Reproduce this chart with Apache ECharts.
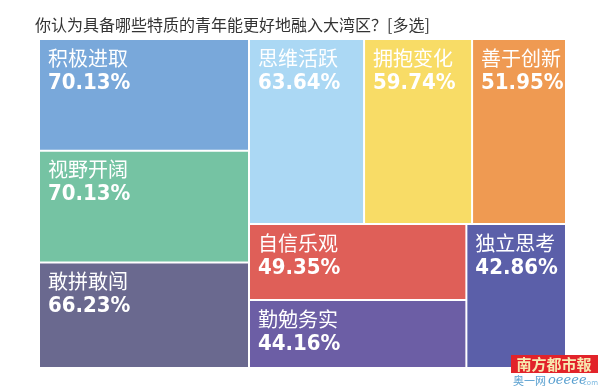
<!DOCTYPE html>
<html><head><meta charset="utf-8">
<script src="https://cdn.jsdelivr.net/npm/echarts@6/dist/echarts.min.js"></script>
<style>html,body{margin:0;padding:0;background:#fff}#c{width:600px;height:392px}</style>
</head><body><div id="c"></div>
<script>
const title = '你认为具备哪些特质的青年能更好地融入大湾区？[多选]';
const categories = ['积极进取','视野开阔','敢拼敢闯','思维活跃','拥抱变化','善于创新','自信乐观','勤勉务实','独立思考'];
const values = [70.13,70.13,66.23,63.64,59.74,51.95,49.35,44.16,42.86];
const colors = ['#79a8da','#75c3a3','#6a698f','#abd8f4','#f8dc66','#ef9a52','#df5f58','#6c5ea5','#5b5fa9'];

const chart = echarts.init(document.getElementById('c'));
chart.setOption({
  animation:false,
  title:{text:title,left:30,top:12,textStyle:{fontFamily:'Noto Sans CJK SC',fontSize:16,fontWeight:'normal',color:'#333'}},
  series:[{
    type:'treemap',
    left:40, top:40, width:525, height:327,
    roam:false, nodeClick:false, sort:false,
    breadcrumb:{show:false},
    itemStyle:{gapWidth:2,borderWidth:0,borderColor:'#fff'},
    label:{
      show:true, position:'insideTopLeft', distance:0, padding:[6,0,0,8],
      formatter:p=>'{n|'+p.name+'}\n{v|'+p.value.toFixed(2)+'%}',
      rich:{
        n:{fontFamily:'Noto Sans CJK SC',fontSize:20,color:'#fff',lineHeight:24},
        v:{fontFamily:'DejaVu Sans Condensed',fontWeight:'bold',fontSize:22,color:'#fff',lineHeight:26}
      }
    },
    upperLabel:{show:false},
    data: categories.map((c,i)=>({name:c,value:values[i],itemStyle:{color:colors[i]}}))
  }],
  graphic:[
    {type:'rect',z:100,shape:{x:511,y:355,width:87,height:18},style:{fill:'#e2232a'}},
    {type:'text',z:101,style:{x:554,y:364,text:'南方都市報',align:'center',verticalAlign:'middle',fontFamily:'Noto Sans CJK SC',fontWeight:'bold',fontSize:15,fill:'#f7e9b0'}},
    {type:'text',z:100,style:{x:513,y:381,text:'奥一网',verticalAlign:'middle',fontFamily:'Noto Sans CJK SC',fontSize:11,fill:'#5aa0d0'}},
    {type:'text',z:100,style:{x:548,y:381,text:'oeeee',verticalAlign:'middle',fontFamily:'DejaVu Serif',fontStyle:'italic',fontSize:13,fill:'#5aa0d0'}},
    {type:'text',z:100,style:{x:583,y:383,text:'com',verticalAlign:'middle',fontFamily:'DejaVu Sans',fontSize:7,fill:'#7ab8e0'}}
  ]
});
</script></body></html>
